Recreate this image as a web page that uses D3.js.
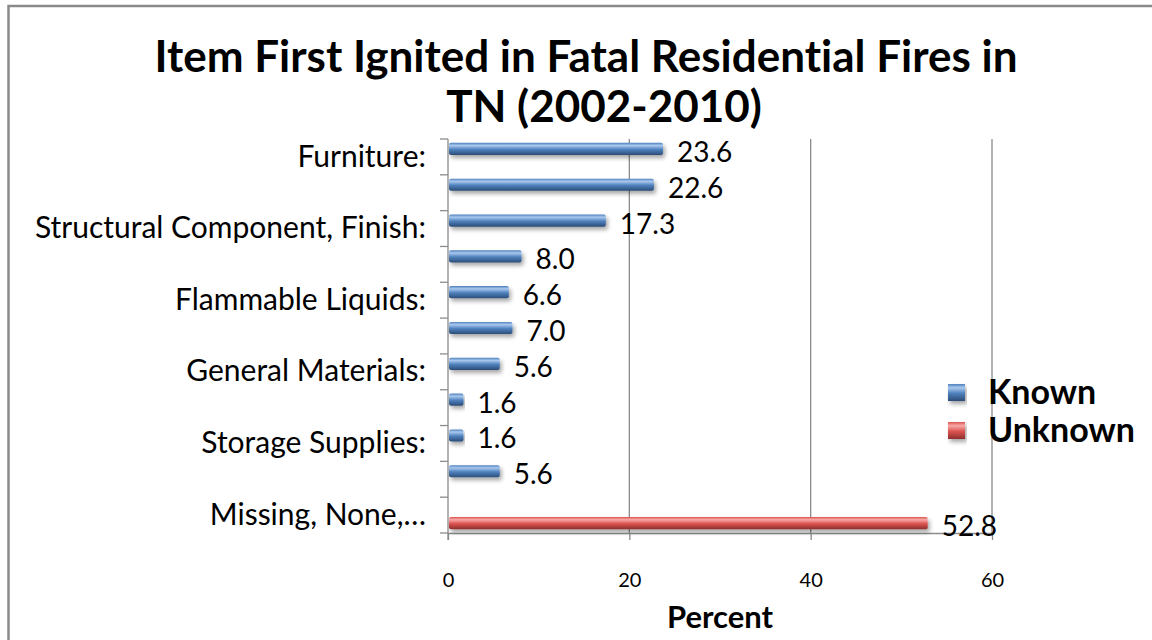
<!DOCTYPE html>
<html>
<head>
<meta charset="utf-8">
<script src="https://cdn.jsdelivr.net/npm/d3@7"></script>
<style>
  body { margin: 0; background: #fff; }
  svg { display: block; font-family: Lato, "Open Sans", sans-serif; font-variant-ligatures: none; }
</style>
</head>
<body>
<div id="chart"></div>
<script>
// categories (every other label is hidden on the axis, as in the original)
const categories = [
  "Furniture:",
  "Soft Goods, Wearing Apparel:",
  "Structural Component, Finish:",
  "Adornment, Recreational Material:",
  "Flammable Liquids:",
  "Organic Materials:",
  "General Materials:",
  "Liquids, Piping, Filters:",
  "Storage Supplies:",
  "Other Item First Ignited:",
  "Missing, None,…"
];
const shownLabels = [true, false, true, false, true, false, true, false, true, false, true];

const knownValues = [23.6, 22.6, 17.3, 8.0, 6.6, 7.0, 5.6, 1.6, 1.6, 5.6, null];
const unknownValues = [null, null, null, null, null, null, null, null, null, null, 52.8];

const seriesNames = ["Known", "Unknown"];
const xTicks = [0, 20, 40, 60];

const titleLines = ["Item First Ignited in Fatal Residential Fires in", "TN (2002-2010)"];
const xAxisTitle = "Percent";

const width = 1152;
const height = 640;
const margin = { top: 139, right: 160, bottom: 107, left: 448 };

const colors = {
  Known: ["#a9c8ee", "#4f81bd", "#2b4c77"],
  Unknown: ["#f8aaa8", "#dc5450", "#8e2f2c"],
  axis: "#8c8c8c"
};

const svg = d3.select("#chart")
  .append("svg")
  .attr("width", width)
  .attr("height", height);

// gradients + shadow for the "cylinder" look
const defs = svg.append("defs");
seriesNames.forEach((name) => {
  const g = defs.append("linearGradient")
    .attr("id", "grad-" + name)
    .attr("x1", 0).attr("y1", 0).attr("x2", 0).attr("y2", 1);
  g.append("stop").attr("offset", "0%").attr("stop-color", colors[name][1]);
  g.append("stop").attr("offset", "22%").attr("stop-color", colors[name][0]);
  g.append("stop").attr("offset", "55%").attr("stop-color", colors[name][1]);
  g.append("stop").attr("offset", "100%").attr("stop-color", colors[name][2]);
});
const shadow = defs.append("filter")
  .attr("id", "shadow")
  .attr("x", "-5%").attr("y", "-50%").attr("width", "115%").attr("height", "250%");
shadow.append("feDropShadow")
  .attr("dx", 2).attr("dy", 3)
  .attr("stdDeviation", 2)
  .attr("flood-color", "#000")
  .attr("flood-opacity", 0.35);

// outer border (runs off the right and bottom edges)
svg.append("rect")
  .attr("x", 8.5).attr("y", 6)
  .attr("width", 1200).attr("height", 700)
  .attr("fill", "none")
  .attr("stroke", "#8a8a8a")
  .attr("stroke-width", 2.5);

const x = d3.scaleLinear()
  .domain([0, 60])
  .range([margin.left, width - margin.right]);

const y = d3.scaleBand()
  .domain(categories)
  .range([margin.top, height - margin.bottom]);

const ySub = d3.scaleBand()
  .domain(seriesNames)
  .range([0, y.bandwidth()])
  .padding(0.24);

const plotTop = margin.top;
const plotBottom = height - margin.bottom;

// vertical gridlines
svg.append("g")
  .selectAll("line")
  .data(xTicks.filter((d) => d > 0))
  .join("line")
  .attr("x1", (d) => x(d))
  .attr("x2", (d) => x(d))
  .attr("y1", plotTop)
  .attr("y2", plotBottom)
  .attr("stroke", colors.axis)
  .attr("stroke-width", 1.3);

// X axis
const xAxis = svg.append("g")
  .attr("transform", `translate(0,${plotBottom})`)
  .call(d3.axisBottom(x).tickValues(xTicks).tickSize(7).tickSizeOuter(0));
xAxis.select(".domain").attr("stroke", colors.axis).attr("stroke-width", 1.3);
xAxis.selectAll(".tick line").attr("stroke", colors.axis).attr("stroke-width", 1.3);
xAxis.selectAll(".tick text")
  .attr("y", 54)
  .attr("dy", 0)
  .attr("fill", "#000")
  .style("font-size", "20px")
  .style("font-family", "Lato, sans-serif");

// Y axis (labels centred on categories, tick marks between categories)
const yAxis = svg.append("g")
  .attr("transform", `translate(${margin.left},0)`)
  .call(
    d3.axisLeft(y)
      .tickSize(0)
      .tickPadding(22)
      .tickFormat((d, i) => (shownLabels[i] ? d : ""))
  );
yAxis.select(".domain").remove();
yAxis.selectAll(".tick text")
  .attr("fill", "#000")
  .style("font-size", "30px")
  .style("font-family", "Lato, sans-serif");

svg.append("line")
  .attr("x1", margin.left).attr("x2", margin.left)
  .attr("y1", plotTop).attr("y2", plotBottom + 7)
  .attr("stroke", colors.axis)
  .attr("stroke-width", 1.3);

const boundaries = categories.map((c) => y(c)).concat([plotBottom]);
svg.append("g")
  .selectAll("line")
  .data(boundaries)
  .join("line")
  .attr("x1", margin.left - 8)
  .attr("x2", margin.left)
  .attr("y1", (d) => d)
  .attr("y2", (d) => d)
  .attr("stroke", colors.axis)
  .attr("stroke-width", 1.3);

// bars
const barData = [];
categories.forEach((c, i) => {
  if (knownValues[i] != null) barData.push({ cat: c, series: "Known", value: knownValues[i] });
  if (unknownValues[i] != null) barData.push({ cat: c, series: "Unknown", value: unknownValues[i] });
});

svg.append("g")
  .selectAll("rect")
  .data(barData)
  .join("rect")
  .attr("x", x(0) + 1)
  .attr("y", (d) => y(d.cat) + ySub(d.series))
  .attr("width", (d) => x(d.value) - x(0))
  .attr("height", ySub.bandwidth())
  .attr("rx", 2)
  .attr("fill", (d) => `url(#grad-${d.series})`)
  .attr("filter", "url(#shadow)");

// value labels
svg.append("g")
  .selectAll("text")
  .data(barData)
  .join("text")
  .attr("x", (d) => x(d.value) + 15)
  .attr("y", (d) => y(d.cat) + ySub(d.series) + ySub.bandwidth() / 2 + 13)
  .style("font-size", "28px")
  .text((d) => d3.format(".1f")(d.value));

// title
svg.append("text")
  .attr("x", 586)
  .attr("y", 72)
  .attr("text-anchor", "middle")
  .style("font-size", "44px")
  .style("font-weight", "bold")
  .text(titleLines[0]);
svg.append("text")
  .attr("x", 604)
  .attr("y", 122)
  .attr("text-anchor", "middle")
  .style("font-size", "44px")
  .style("font-weight", "bold")
  .text(titleLines[1]);

// x axis title
svg.append("text")
  .attr("x", (x(0) + x(60)) / 2)
  .attr("y", 628)
  .attr("text-anchor", "middle")
  .style("font-size", "31px")
  .style("font-weight", "bold")
  .text(xAxisTitle);

// legend
const legend = svg.append("g")
  .attr("transform", "translate(948,384)");
const legendItems = legend.selectAll("g")
  .data(seriesNames)
  .join("g")
  .attr("transform", (d, i) => `translate(0,${i * 38})`);
legendItems.append("rect")
  .attr("width", 17)
  .attr("height", 17)
  .attr("fill", (d) => `url(#grad-${d})`)
  .attr("filter", "url(#shadow)");
legendItems.append("text")
  .attr("x", 40)
  .attr("y", 20)
  .style("font-size", "34px")
  .style("font-weight", "bold")
  .text((d) => d);
</script>
</body>
</html>
